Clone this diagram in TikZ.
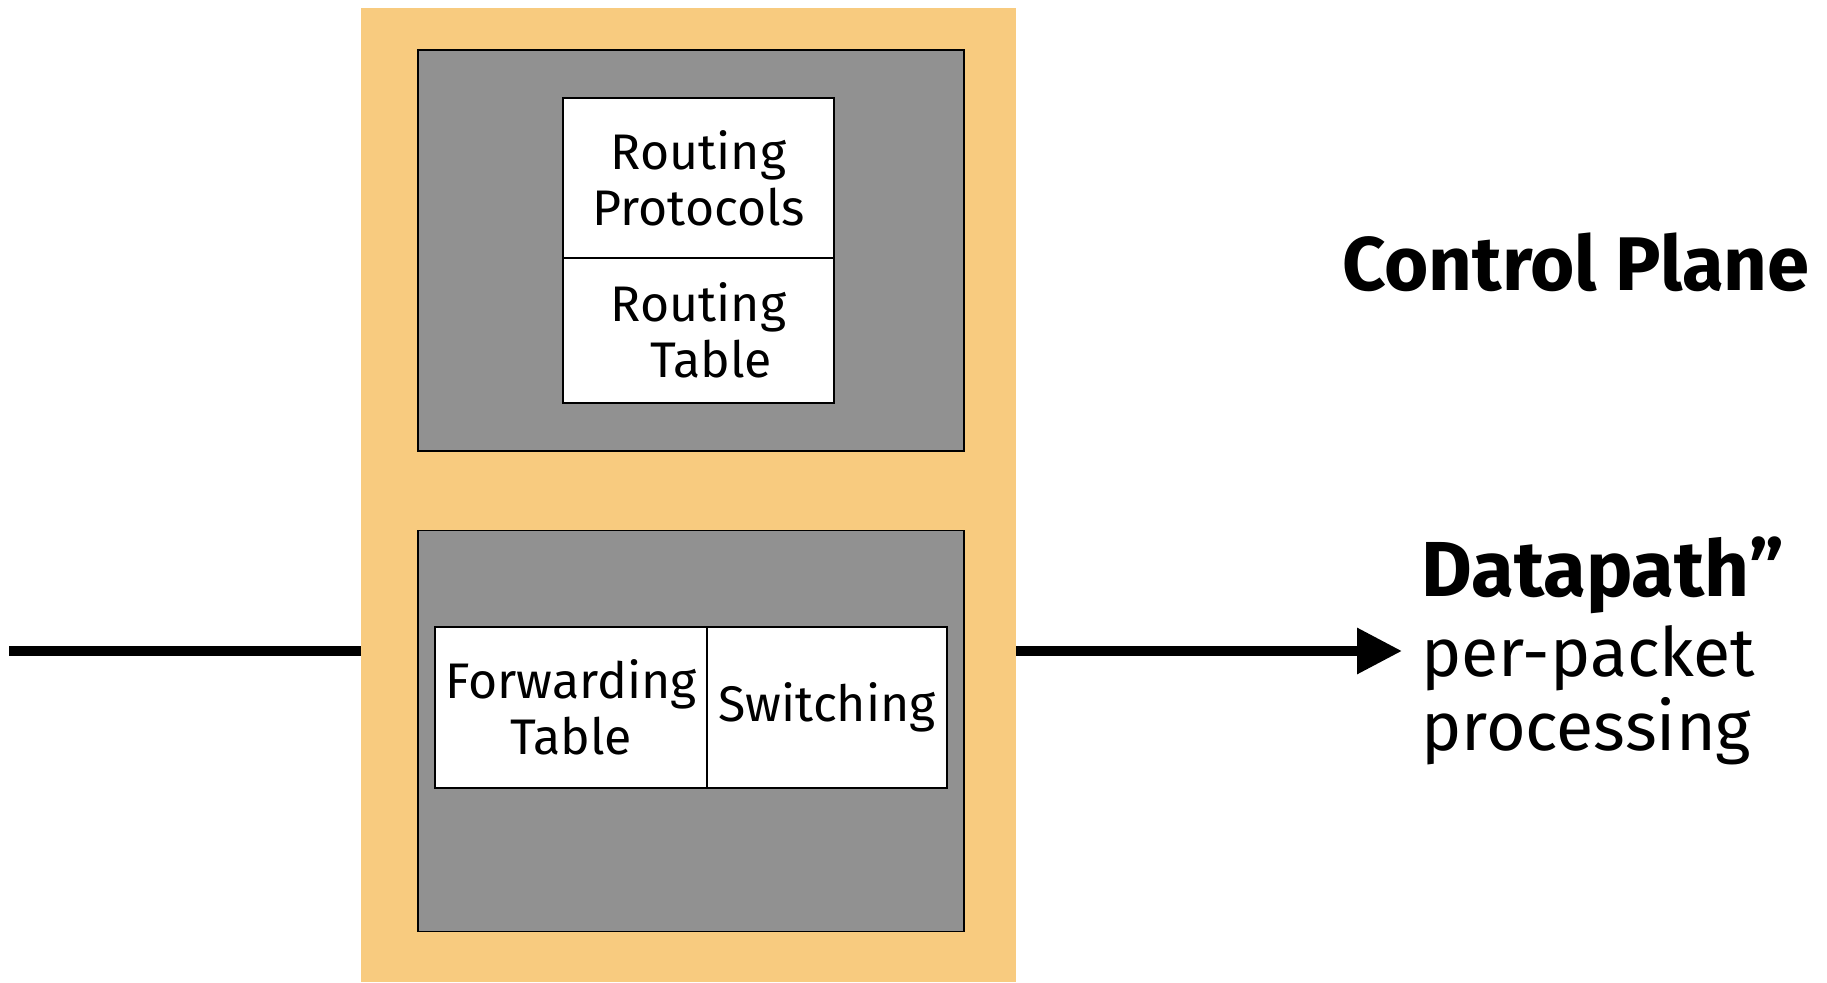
\documentclass[tikz,border=0pt]{standalone}
\usepackage{fontspec}
\setmainfont{Fira Sans}
\usetikzlibrary{arrows.meta}

\definecolor{routerorange}{RGB}{248,203,127}
\definecolor{planegray}{RGB}{145,145,145}

\begin{document}
\begin{tikzpicture}[x=0.5pt, y=-0.5pt,
        plane/.style={draw=black, line width=0.8pt, fill=planegray, inner sep=0pt,
                      minimum width=273pt, minimum height=200.5pt},
        box/.style={draw=black, line width=0.8pt, fill=white, inner sep=0pt, align=center,
                    font=\fontsize{25}{28}\selectfont},
        wire/.style={line width=4.75pt}]
        \useasboundingbox (0,0) rectangle (1827,983);

        % the router itself
        \node[fill=routerorange, inner sep=0pt, minimum width=327.5pt, minimum height=487pt] (router) at (688.5,495) {};

        % control plane half
        \node[plane] (ctrl) at (691,250.5) {};
        \node[box, minimum width=135.5pt, minimum height=80pt] (proto) at (698.5,178) {Routing\\Protocols};
        \node[box, minimum width=135.5pt, minimum height=72.5pt] (rtable) at (698.5,330.5) {Routing\\\hspace*{0.5em}Table};

        % data plane half
        \node[plane] (data) at (691,731) {};
        \node[box, minimum width=136pt, minimum height=80.5pt] (fwd) at (571,707.5) {Forwarding\\Table};
        \node[box, minimum width=120pt, minimum height=80.5pt] (switch) at (827,707.5) {Switching};

        % packets in and out
        \coordinate (in) at (9,651);
        \coordinate (out) at (1402,651);
        \draw[wire] (in) -- (in -| router.west);
        \draw[wire, -{Triangle[length=22.5pt, width=22pt]}] (in -| router.east) -- (out);

        % labels on the right
        \node[anchor=base, font=\fontsize{38}{42}\selectfont\bfseries] (ctrllabel) at (1576,291) {Control Plane};
        \node[anchor=base west, inner sep=0pt, font=\fontsize{39}{42}\selectfont\bfseries] (dplabel) at (1421,597) {Datapath”};
        \node[anchor=base west, inner sep=0pt, font=\fontsize{34}{37}\selectfont] (pplabel) at (1421,677) {per-packet};
        \node[anchor=base west, inner sep=0pt, font=\fontsize{34}{37}\selectfont] (proclabel) at (1421,751) {processing};
\end{tikzpicture}
\end{document}
